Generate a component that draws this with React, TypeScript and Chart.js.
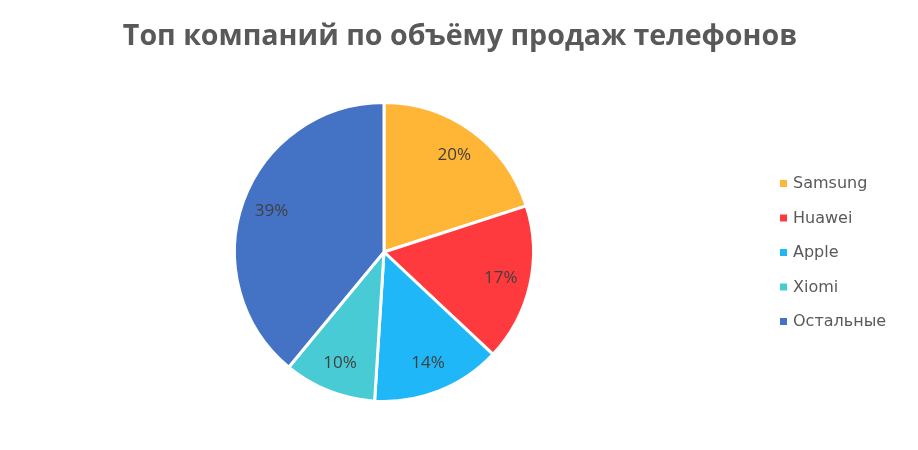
import React, { useEffect, useRef } from "react";
import { Chart, registerables } from "chart.js";

Chart.register(...registerables);

const titleText = "Топ компаний по объёму продаж телефонов";
const categories = ["Samsung", "Huawei", "Apple", "Xiomi", "Остальные"];
const shares = [20, 17, 14, 10, 39];
const colors = ["#FFB636", "#FF3A3F", "#1FB7F7", "#48CBD5", "#4472C4"];

const FONT = "'Open Sans', 'DejaVu Sans', sans-serif";
const FONT2 = "'DejaVu Sans', 'Open Sans', sans-serif";

const overlayPlugin = {
  id: "overlay",
  afterDraw(chart: any) {
    const ctx = chart.ctx;
    const W = chart.width;
    ctx.save();
    // title
    ctx.fillStyle = "#595959";
    ctx.font = `bold 28.6px ${FONT}`;
    ctx.textAlign = "center";
    ctx.textBaseline = "middle";
    ctx.fillText(titleText, W / 2 + 1, 37);

    // slice labels
    const meta = chart.getDatasetMeta(0);
    const total = shares.reduce((a, b) => a + b, 0);
    ctx.font = `17px ${FONT}`;
    ctx.fillStyle = "#404040";
    meta.data.forEach((arc: any, i: number) => {
      const p = arc.getProps(["x", "y", "startAngle", "endAngle", "outerRadius"], true);
      const mid = (p.startAngle + p.endAngle) / 2;
      const r = p.outerRadius * 0.8;
      const x = p.x + Math.cos(mid) * r;
      const y = p.y + Math.sin(mid) * r;
      ctx.fillText(Math.round((shares[i] / total) * 100) + "%", x, y);
    });

    // legend
    ctx.font = `16px ${FONT2}`;
    ctx.textAlign = "left";
    const lx = 780;
    const ly0 = 184;
    const step = 34.5;
    categories.forEach((c, i) => {
      const y = ly0 + i * step;
      ctx.fillStyle = colors[i];
      ctx.fillRect(lx, y - 4, 7, 7);
      ctx.fillStyle = "#595959";
      ctx.fillText(c, lx + 13, y);
    });
    ctx.restore();
  },
};

export default function App() {
  const ref = useRef<HTMLCanvasElement | null>(null);
  useEffect(() => {
    document.body.style.margin = "0";
    const chart = new Chart(ref.current!, {
      type: "pie",
      data: {
        labels: categories,
        datasets: [
          {
            data: shares,
            backgroundColor: colors,
            borderColor: "#ffffff",
            borderWidth: 3,
          },
        ],
      },
      options: {
        animation: false,
        responsive: false,
        maintainAspectRatio: false,
        layout: { padding: { left: 0, right: 150, top: 101, bottom: 47 } },
        plugins: {
          legend: { display: false },
          title: { display: false },
          tooltip: { enabled: false },
        },
      },
      plugins: [overlayPlugin],
    });
    return () => chart.destroy();
  }, []);
  return (
    <div style={{ width: 918, height: 450, background: "#fff" }}>
      <canvas ref={ref} width={918} height={450} style={{ display: "block" }} />
    </div>
  );
}
